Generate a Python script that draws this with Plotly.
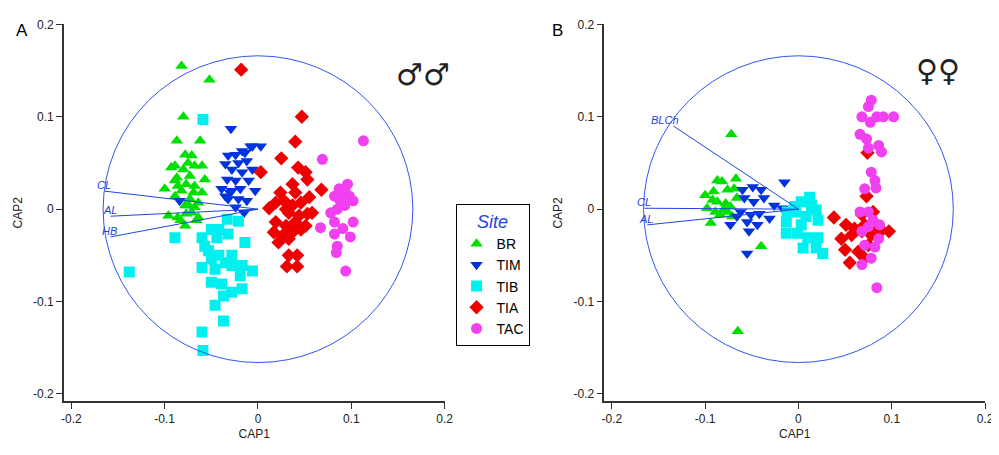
import plotly.graph_objects as go

# ---------- Panel A (males) ----------
a_BR_x = [-0.082,-0.052,-0.080,-0.087,-0.062,-0.078,-0.071,-0.089,-0.075,-0.068,-0.093,-0.080,-0.060,-0.087,-0.073,-0.057,-0.100,-0.086,-0.077,-0.068,-0.060,-0.089,-0.073,-0.064,-0.078,-0.068,-0.096,-0.086,-0.077,-0.064,-0.078,-0.071,-0.082,-0.069,-0.089,-0.083,-0.074,-0.066]
a_BR_y = [0.155,0.140,0.100,0.074,0.074,0.059,0.058,0.047,0.050,0.047,0.045,0.043,0.047,0.034,0.036,0.032,0.022,0.025,0.027,0.025,0.018,0.014,0.011,0.007,0.004,0.002,-0.007,-0.009,-0.005,-0.009,-0.018,-0.004,0.020,0.018,0.031,-0.012,0.004,-0.012]
a_TIM_x = [-0.029,-0.032,-0.024,-0.017,-0.008,0.003,-0.035,-0.021,-0.012,-0.028,-0.017,-0.006,-0.033,-0.024,-0.010,-0.039,-0.028,-0.019,-0.003,-0.032,-0.021,-0.012,-0.024,-0.015,-0.084,-0.030,-0.035,-0.006,-0.014]
a_TIM_y = [0.087,0.058,0.059,0.063,0.068,0.068,0.049,0.050,0.052,0.043,0.040,0.043,0.032,0.031,0.031,0.022,0.020,0.022,0.020,0.011,0.011,0.009,0.002,-0.004,0.009,0.018,0.014,0.068,0.061]
a_TIB_x = [-0.059,-0.089,-0.060,-0.138,-0.050,-0.042,-0.033,-0.021,-0.044,-0.032,-0.014,-0.053,-0.042,-0.035,-0.060,-0.046,-0.028,-0.017,-0.006,-0.019,-0.050,-0.039,-0.028,-0.017,-0.037,-0.046,-0.037,-0.060,-0.059,-0.050,-0.057,-0.028]
a_TIB_y = [0.097,-0.031,-0.031,-0.068,-0.022,-0.022,-0.011,-0.013,-0.031,-0.027,-0.036,-0.045,-0.050,-0.058,-0.063,-0.065,-0.061,-0.061,-0.067,-0.072,-0.079,-0.081,-0.090,-0.086,-0.094,-0.104,-0.121,-0.133,-0.153,-0.054,-0.040,-0.050]
a_TIA_x = [-0.018,0.047,0.040,0.025,0.003,0.043,0.051,0.053,0.068,0.012,0.019,0.028,0.037,0.040,0.046,0.055,0.033,0.044,0.053,0.019,0.030,0.040,0.051,0.017,0.026,0.037,0.046,0.022,0.033,0.033,0.042,0.031,0.042,0.024,0.037,0.030,0.058]
a_TIA_y = [0.151,0.100,0.073,0.055,0.040,0.045,0.040,0.032,0.021,0.001,0.007,0.009,0.027,0.018,0.007,0.013,-0.004,-0.007,-0.005,-0.014,-0.018,-0.014,-0.018,-0.025,-0.029,-0.025,-0.022,-0.036,-0.032,-0.050,-0.050,-0.062,-0.062,0.018,0.004,0.000,-0.004]
a_TAC_x = [0.113,0.069,0.096,0.087,0.082,0.094,0.102,0.078,0.087,0.093,0.085,0.102,0.082,0.091,0.067,0.082,0.099,0.085,0.084,0.094,0.098,0.089]
a_TAC_y = [0.074,0.054,0.027,0.022,0.014,0.018,0.009,-0.004,0.011,0.004,0.000,-0.014,-0.014,-0.021,-0.020,-0.027,-0.030,-0.040,-0.047,-0.067,0.014,0.007]

# ---------- Panel B (females) ----------
b_BR_x = [-0.072,-0.065,-0.040,-0.087,-0.082,-0.067,-0.100,-0.091,-0.076,-0.069,-0.098,-0.087,-0.078,-0.066,-0.094,-0.084,-0.071,-0.089,-0.076,-0.080,-0.092,-0.073]
b_BR_y = [0.081,-0.132,-0.040,0.031,0.030,0.033,0.015,0.019,0.021,0.022,0.001,0.008,0.006,0.012,-0.015,-0.006,-0.008,-0.003,-0.003,0.000,0.010,0.003]
b_TIM_x = [-0.015,-0.055,-0.053,-0.073,-0.060,-0.049,-0.040,-0.058,-0.048,-0.037,-0.026,-0.017,-0.062,-0.051,-0.042,-0.031,-0.066,-0.055,-0.044]
b_TIM_y = [0.029,-0.048,-0.024,-0.017,0.021,0.024,0.021,0.012,0.008,0.012,0.004,0.001,-0.003,-0.006,-0.005,-0.010,-0.008,-0.014,-0.017]
b_TIB_x = [0.012,0.003,0.019,-0.012,-0.003,0.008,0.021,-0.013,0.003,-0.013,-0.001,0.010,0.021,0.005,0.019,0.026,-0.004,0.014]
b_TIB_y = [0.013,0.008,-0.001,-0.003,-0.003,-0.008,-0.012,-0.014,-0.017,-0.026,-0.026,-0.031,-0.031,-0.042,-0.042,-0.048,0.003,0.004]
b_TIA_x = [0.074,0.073,0.038,0.051,0.060,0.071,0.080,0.046,0.057,0.068,0.078,0.089,0.097,0.050,0.064,0.055,0.071,0.068,0.086,0.075]
b_TIA_y = [0.061,0.014,-0.009,-0.017,-0.021,-0.017,-0.003,-0.032,-0.028,-0.024,-0.028,-0.023,-0.024,-0.044,-0.046,-0.058,-0.053,-0.006,-0.021,-0.039]
b_TAC_x = [0.078,0.075,0.068,0.077,0.084,0.091,0.102,0.066,0.073,0.086,0.075,0.089,0.078,0.082,0.071,0.083,0.066,0.075,0.080,0.087,0.068,0.086,0.071,0.082,0.078,0.068,0.084,0.075]
b_TAC_y = [0.118,0.111,0.100,0.094,0.100,0.100,0.100,0.081,0.076,0.069,0.066,0.062,0.040,0.031,0.022,0.023,-0.003,-0.003,-0.012,-0.017,-0.024,-0.032,-0.039,-0.041,-0.053,-0.060,-0.085,-0.019]

# vectors (end points, all start at origin)
a_vec_names = ["CL", "AL", "HB"]
a_vec_x = [-0.164, -0.158, -0.158]
a_vec_y = [0.0195, -0.0076, -0.030]
b_vec_names = ["BLCh", "CL", "AL"]
b_vec_x = [-0.134, -0.165, -0.162]
b_vec_y = [0.090, 0.001, -0.017]
circle_r = 0.166

sites = ["BR", "TIM", "TIB", "TIA", "TAC"]
symbols = ["triangle-up", "triangle-down", "square", "diamond", "circle"]
colors = ["#00e000", "#0033dd", "#00f0f0", "#ee0000", "#f040f0"]

a_data = [(a_BR_x, a_BR_y), (a_TIM_x, a_TIM_y), (a_TIB_x, a_TIB_y), (a_TIA_x, a_TIA_y), (a_TAC_x, a_TAC_y)]
b_data = [(b_BR_x, b_BR_y), (b_TIM_x, b_TIM_y), (b_TIB_x, b_TIB_y), (b_TIA_x, b_TIA_y), (b_TAC_x, b_TAC_y)]

fig = go.Figure()
vec_blue = "#2244dd"

for panel, data, vnames, vx, vy, xa, ya in [
    ("A", a_data, a_vec_names, a_vec_x, a_vec_y, "x", "y"),
    ("B", b_data, b_vec_names, b_vec_x, b_vec_y, "x2", "y2"),
]:
    for (px, py), s, sym, col in zip(data, sites, symbols, colors):
        fig.add_trace(go.Scatter(
            x=px, y=py, mode="markers", name=s, xaxis=xa, yaxis=ya,
            marker=dict(symbol=sym, color=col, size=11, line=dict(width=0)),
            showlegend=(panel == "A"),
        ))
    for n, ex, ey in zip(vnames, vx, vy):
        fig.add_trace(go.Scatter(x=[0, ex], y=[0, ey], mode="lines", xaxis=xa, yaxis=ya,
                                 line=dict(color=vec_blue, width=1), showlegend=False, hoverinfo="skip"))
        fig.add_annotation(x=ex, y=ey, xref=xa, yref=ya, text="<i>" + n + "</i>", showarrow=False,
                           xanchor="right", yanchor="bottom", xshift=8, yshift=-2,
                           font=dict(size=11, color=vec_blue, family="Liberation Sans"))
    fig.add_shape(type="circle", xref=xa, yref=ya, x0=-circle_r, y0=-circle_r, x1=circle_r, y1=circle_r,
                  line=dict(color="#3355ee", width=1))

axis_style = dict(range=[-0.208, 0.2], tickvals=[-0.2, -0.1, 0, 0.1, 0.2], ticktext=["-0.2", "-0.1", "0", "0.1", "0.2"],
                  showgrid=False, zeroline=False, showline=True, linecolor="#333333", linewidth=1.5,
                  ticks="outside", ticklen=6, tickcolor="#333333", tickfont=dict(size=12, color="#222"),
                  automargin=False)

fig.update_layout(
    width=999, height=455, plot_bgcolor="white", paper_bgcolor="white",
    margin=dict(l=0, r=0, t=0, b=0),
    font=dict(family="Liberation Sans, Arial", color="#222"),
    xaxis=dict(domain=[0.056, 0.437], anchor="y", title=dict(text="CAP1", font=dict(size=12), standoff=4), **axis_style),
    yaxis=dict(domain=[0.1355, 0.964], anchor="x", title=dict(text="CAP2", font=dict(size=12), standoff=8), **axis_style),
    xaxis2=dict(domain=[0.597, 0.978], anchor="y2", title=dict(text="CAP1", font=dict(size=12), standoff=4), **axis_style),
    yaxis2=dict(domain=[0.1355, 0.964], anchor="x2", title=dict(text="CAP2", font=dict(size=12), standoff=8), **axis_style),
    legend=dict(x=0.448, y=0.57, xanchor="left", yanchor="top", bordercolor="black", borderwidth=1,
                title=dict(text="<i>Site</i>", font=dict(size=18, color="#2244dd"), side="top center"),
                font=dict(size=14, color="black"), itemwidth=30, tracegroupgap=0),
    showlegend=True,
)

fig.add_annotation(x=0.006, y=0.975, xref="paper", yref="paper", text="A", showarrow=False,
                   xanchor="left", yanchor="top", font=dict(size=17, color="black"))
fig.add_annotation(x=0.543, y=0.975, xref="paper", yref="paper", text="B", showarrow=False,
                   xanchor="left", yanchor="top", font=dict(size=17, color="black"))
fig.add_annotation(x=0.415, y=0.905, xref="paper", yref="paper", text="♂♂", showarrow=False,
                   font=dict(size=30, color="#222", family="Noto Sans, DejaVu Sans"))
fig.add_annotation(x=0.955, y=0.915, xref="paper", yref="paper", text="♀♀", showarrow=False,
                   font=dict(size=30, color="#222", family="Noto Sans, DejaVu Sans"))

fig.write_html("out.html")
